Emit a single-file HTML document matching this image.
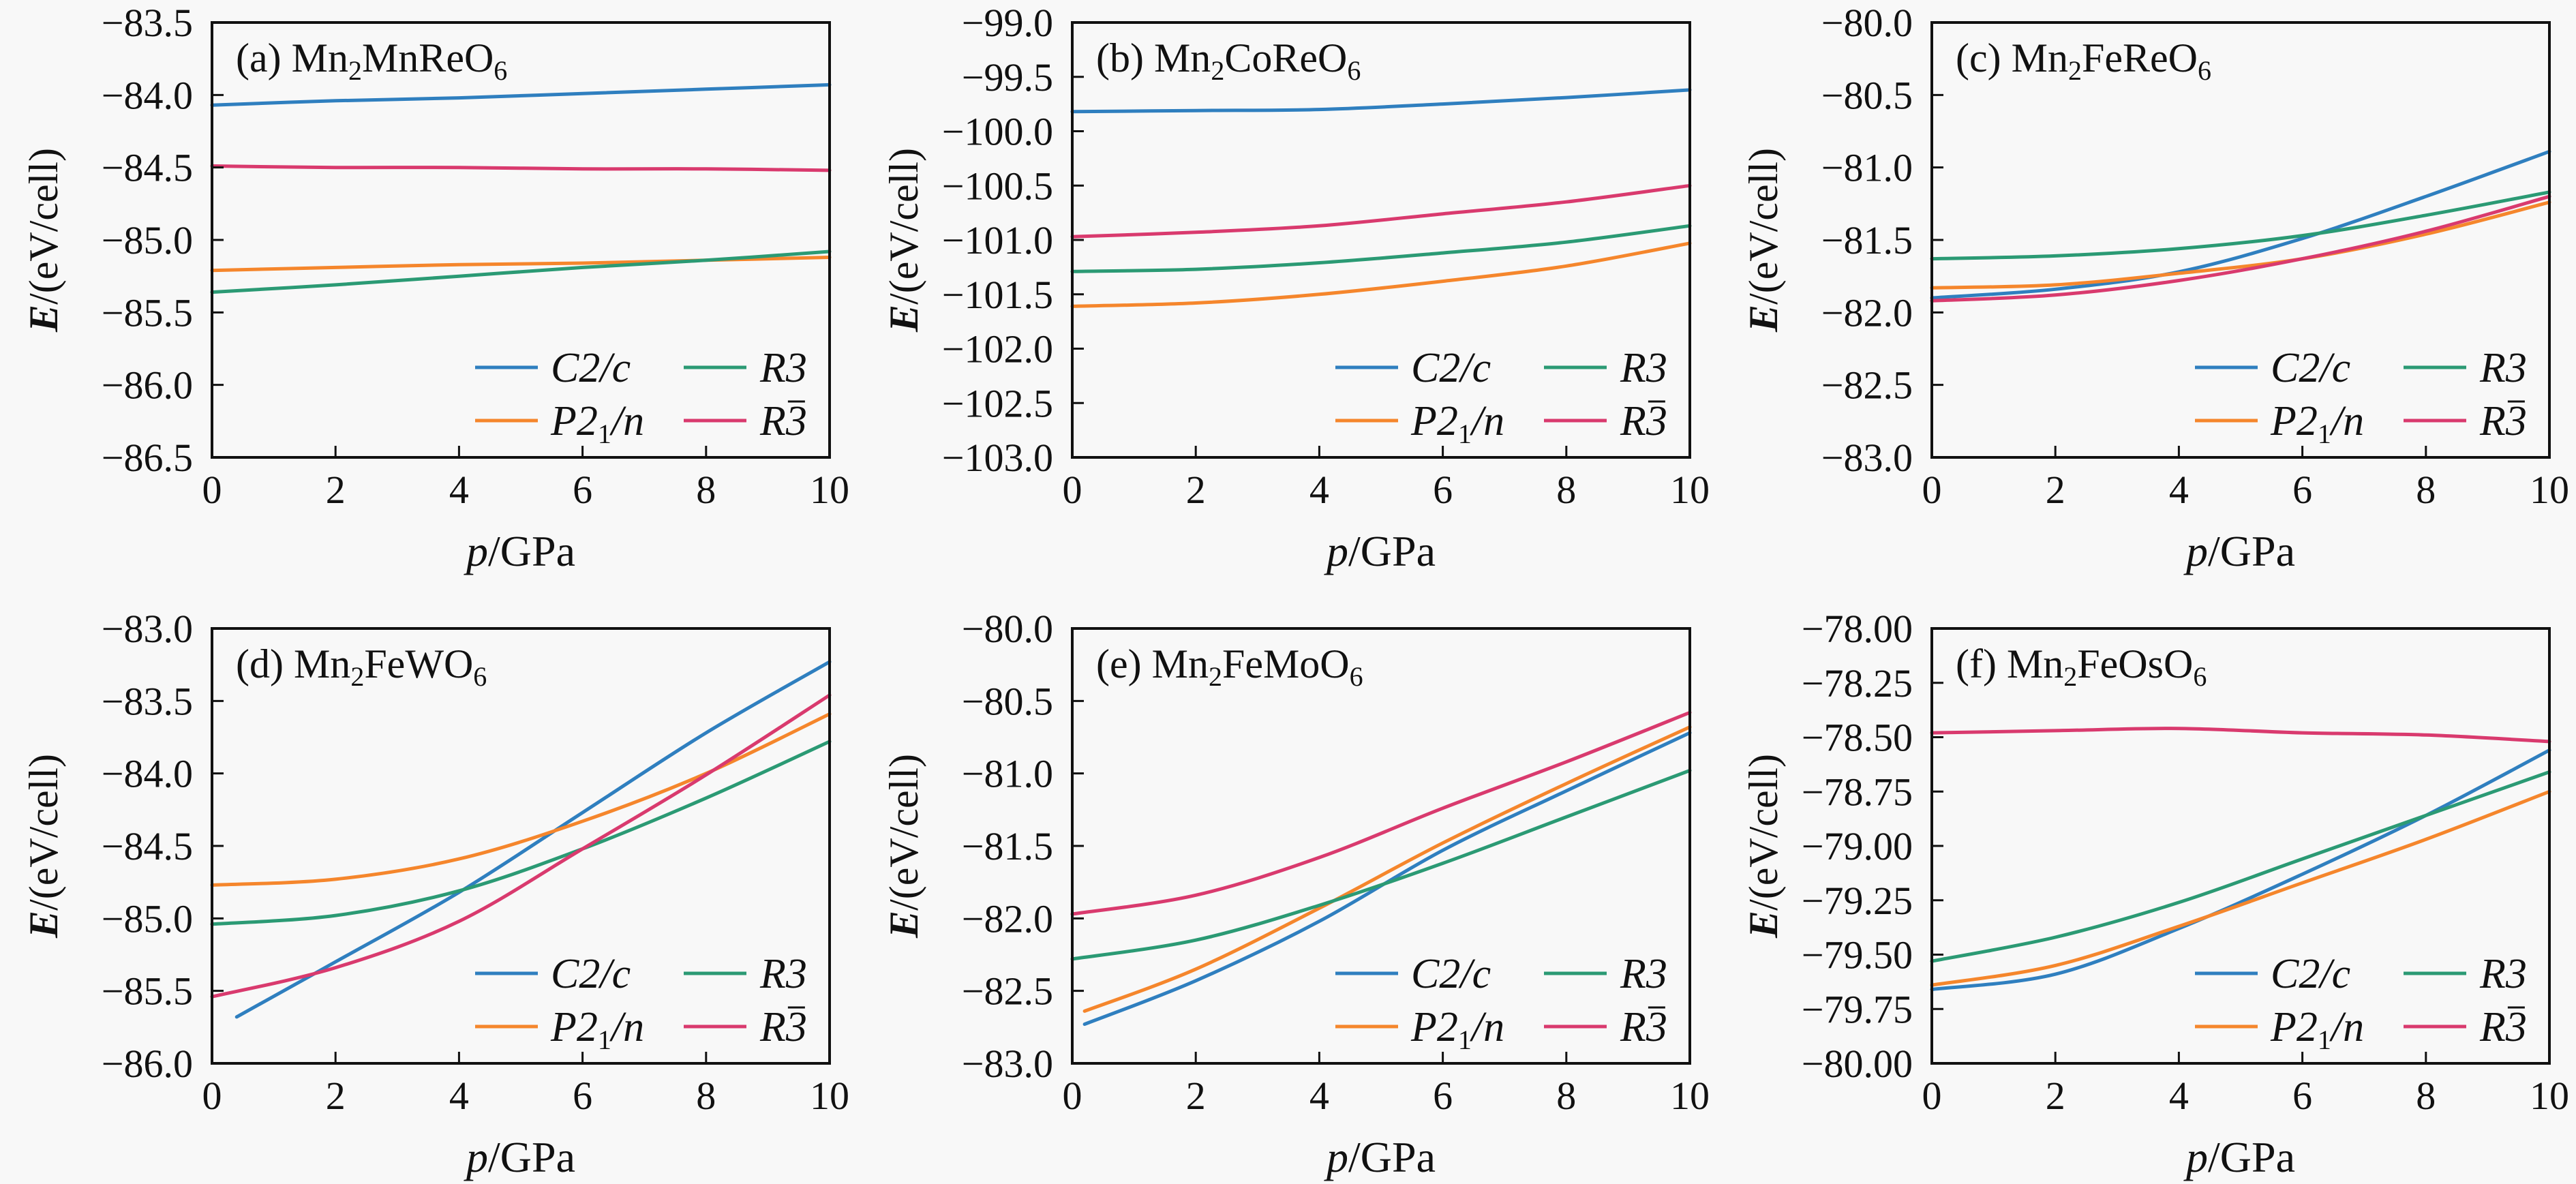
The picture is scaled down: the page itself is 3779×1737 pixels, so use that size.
<!DOCTYPE html>
<html><head><meta charset="utf-8"><style>
html,body{margin:0;padding:0;background:#f8f8f8;}
svg{display:block;}
svg text{font-family:"Liberation Serif","DejaVu Serif",serif;}
</style></head><body>
<svg id="fig" width="3779" height="1737" viewBox="0 0 3779 1737" xmlns="http://www.w3.org/2000/svg">
<rect x="0" y="0" width="3779" height="1737" fill="#f8f8f8"/>
</svg>
<script>
const xTicks = [0,2,4,6,8,10];
const seriesNames = ['C2/c','P21/n','R3','R3bar'];
const colors = ['#2f7fbf','#f5862c','#2b9a74','#d93a6e'];
// panel a
const aX = [0,2,4,6,8,10];
const aC2c = [-84.07,-84.04,-84.02,-83.99,-83.96,-83.93];
const aP21n = [-85.21,-85.19,-85.17,-85.16,-85.14,-85.12];
const aR3 = [-85.36,-85.31,-85.25,-85.19,-85.14,-85.08];
const aR3bar = [-84.49,-84.50,-84.50,-84.51,-84.51,-84.52];
const aYTicks = ['-83.5','-84.0','-84.5','-85.0','-85.5','-86.0','-86.5'];
// panel b
const bX = [0,2,4,6,8,10];
const bC2c = [-99.82,-99.81,-99.80,-99.75,-99.69,-99.62];
const bP21n = [-101.61,-101.58,-101.50,-101.38,-101.24,-101.03];
const bR3 = [-101.29,-101.27,-101.21,-101.12,-101.02,-100.87];
const bR3bar = [-100.97,-100.93,-100.87,-100.76,-100.65,-100.50];
const bYTicks = ['-99.0','-99.5','-100.0','-100.5','-101.0','-101.5','-102.0','-102.5','-103.0'];
// panel c
const cX = [0,2,4,6,8,10];
const cC2c = [-81.90,-81.84,-81.72,-81.49,-81.20,-80.89];
const cP21n = [-81.83,-81.81,-81.73,-81.63,-81.46,-81.24];
const cR3 = [-81.63,-81.61,-81.56,-81.47,-81.33,-81.17];
const cR3bar = [-81.92,-81.88,-81.78,-81.63,-81.44,-81.20];
const cYTicks = ['-80.0','-80.5','-81.0','-81.5','-82.0','-82.5','-83.0'];
// panel d
const dX = [0,2,4,6,8,10];
const dXC2c = [0.4,2,4,6,8,10];
const dC2c = [-85.68,-85.30,-84.82,-84.27,-83.72,-83.23];
const dP21n = [-84.77,-84.73,-84.59,-84.33,-84.00,-83.59];
const dR3 = [-85.04,-84.98,-84.81,-84.52,-84.17,-83.78];
const dR3bar = [-85.54,-85.34,-85.02,-84.52,-84.01,-83.46];
const dYTicks = ['-83.0','-83.5','-84.0','-84.5','-85.0','-85.5','-86.0'];
// panel e
const eX = [0,2,4,6,8,10];
const eXStart = [0.2,2,4,6,8,10];
const eC2c = [-82.73,-82.43,-82.02,-81.53,-81.12,-80.72];
const eP21n = [-82.64,-82.35,-81.93,-81.48,-81.07,-80.68];
const eR3 = [-82.28,-82.15,-81.91,-81.62,-81.30,-80.98];
const eR3bar = [-81.97,-81.84,-81.58,-81.24,-80.92,-80.58];
const eYTicks = ['-80.0','-80.5','-81.0','-81.5','-82.0','-82.5','-83.0'];
// panel f
const fX = [0,2,4,6,8,10];
const fC2c = [-79.66,-79.59,-79.38,-79.13,-78.86,-78.56];
const fP21n = [-79.64,-79.55,-79.37,-79.17,-78.97,-78.75];
const fR3 = [-79.53,-79.42,-79.26,-79.06,-78.86,-78.66];
const fR3bar = [-78.48,-78.47,-78.46,-78.48,-78.49,-78.52];
const fYTicks = ['-78.00','-78.25','-78.50','-78.75','-79.00','-79.25','-79.50','-79.75','-80.00'];

const panels = [
 {id:'a', title:['(a) Mn','2','MnReO','6'], L:311, T:33, yt:aYTicks, s:[[aX,aC2c],[aX,aP21n],[aX,aR3],[aX,aR3bar]]},
 {id:'b', title:['(b) Mn','2','CoReO','6'], L:1573, T:33, yt:bYTicks, s:[[bX,bC2c],[bX,bP21n],[bX,bR3],[bX,bR3bar]]},
 {id:'c', title:['(c) Mn','2','FeReO','6'], L:2834, T:33, yt:cYTicks, s:[[cX,cC2c],[cX,cP21n],[cX,cR3],[cX,cR3bar]]},
 {id:'d', title:['(d) Mn','2','FeWO','6'], L:311, T:922, yt:dYTicks, s:[[dXC2c,dC2c],[dX,dP21n],[dX,dR3],[dX,dR3bar]]},
 {id:'e', title:['(e) Mn','2','FeMoO','6'], L:1573, T:922, yt:eYTicks, s:[[eXStart,eC2c],[eXStart,eP21n],[eX,eR3],[eX,eR3bar]]},
 {id:'f', title:['(f) Mn','2','FeOsO','6'], L:2834, T:922, yt:fYTicks, s:[[fX,fC2c],[fX,fP21n],[fX,fR3],[fX,fR3bar]]}
];
const W = 906, H = 638;
const NS = 'http://www.w3.org/2000/svg';
const SERIF = '"Liberation Serif", "DejaVu Serif", serif';
const svg = document.getElementById('fig');
function mk(tag, attrs, parent){
  const e = document.createElementNS(NS, tag);
  for (const k in attrs) e.setAttribute(k, attrs[k]);
  (parent||svg).appendChild(e);
  return e;
}
function fmt(t){return t.replace('-','\u2212');}
function smooth(pts){
  let d = 'M'+pts[0][0].toFixed(1)+','+pts[0][1].toFixed(1);
  for (let i=0;i<pts.length-1;i++){
    const p0=pts[Math.max(0,i-1)], p1=pts[i], p2=pts[i+1], p3=pts[Math.min(pts.length-1,i+2)];
    const c1=[p1[0]+(p2[0]-p0[0])/6, p1[1]+(p2[1]-p0[1])/6];
    const c2=[p2[0]-(p3[0]-p1[0])/6, p2[1]-(p3[1]-p1[1])/6];
    d+=' C'+c1[0].toFixed(1)+','+c1[1].toFixed(1)+' '+c2[0].toFixed(1)+','+c2[1].toFixed(1)+' '+p2[0].toFixed(1)+','+p2[1].toFixed(1);
  }
  return d;
}
panels.forEach(p=>{
  const g = mk('g',{});
  
  
  const yMax = parseFloat(p.yt[0]), yMin = parseFloat(p.yt[p.yt.length-1]);
  const sx = v => p.L + (v-0)/10*W;
  const sy = v => p.T + (yMax - v)/(yMax - yMin)*H;
  p.s.forEach((ser,i)=>{
    const pts = ser[0].map((x,j)=>[sx(x), sy(ser[1][j])]);
    const path = mk('path',{d:smooth(pts), fill:'none', stroke:colors[i], 'stroke-width':5, 'stroke-linecap':'round'}, g);
    
    
  });
  const fr = mk('rect',{x:p.L, y:p.T, width:W, height:H, fill:'none', stroke:'#111', 'stroke-width':4}, g);
  
  
  xTicks.forEach(t=>{
    const x = sx(t);
    if (t>0 && t<10) mk('line',{x1:x,x2:x,y1:p.T+H,y2:p.T+H-17,stroke:'#111','stroke-width':3},g);
    const lb = mk('text',{x:x, y:p.T+H+67, 'font-size':58, 'text-anchor':'middle', fill:'#111', 'font-family':SERIF}, g);
    lb.textContent = t;
    
    
  });
  p.yt.forEach((t,i)=>{
    const y = sy(parseFloat(t));
    if (i>0 && i<p.yt.length-1) mk('line',{x1:p.L,x2:p.L+17,y1:y,y2:y,stroke:'#111','stroke-width':3},g);
    const lb = mk('text',{x:p.L-28, y:y+20, 'font-size':58, 'text-anchor':'end', fill:'#111', 'font-family':SERIF}, g);
    lb.textContent = fmt(t);
    
    
  });
  const tt = mk('text',{x:p.L+35, y:p.T+72, 'font-size':60, fill:'#111', 'font-family':SERIF}, g);
  
  
  mk('tspan',{},tt).textContent = p.title[0];
  mk('tspan',{'font-size':40, dy:12},tt).textContent = p.title[1];
  mk('tspan',{dy:-12},tt).textContent = p.title[2];
  mk('tspan',{'font-size':40, dy:12},tt).textContent = p.title[3];
  const xl = mk('text',{x:p.L+W/2, y:p.T+H+159, 'font-size':64, 'text-anchor':'middle', fill:'#111', 'font-family':SERIF}, g);
  
  
  mk('tspan',{'font-style':'italic'},xl).textContent='p';
  mk('tspan',{},xl).textContent='/GPa';
  const cx = p.L-247, cy = p.T+H/2;
  const yl = mk('text',{x:cx, y:cy, 'font-size':60, 'text-anchor':'middle', fill:'#111', 'font-weight':'bold', 'font-family':'"Liberation Sans",sans-serif', transform:'rotate(-90 '+cx+' '+cy+')', dy:20}, g);
  
  
  mk('tspan',{'font-style':'italic','font-family':SERIF},yl).textContent='E';
  mk('tspan',{'font-weight':'normal'},yl).textContent='/(eV/cell)';
  const lg = mk('g',{}, g);
  
  
  const rows = [p.T+H-132, p.T+H-54];
  const entries = [[0,0,0],[1,0,1],[2,1,0],[3,1,1]];
  entries.forEach(([si,col,row])=>{
    const hx = p.L + (col? 692:386), tx = p.L + (col? 804:497);
    const y = rows[row];
    const ln = mk('line',{x1:hx,x2:hx+92,y1:y,y2:y,stroke:colors[si],'stroke-width':5}, lg);
    
    
    const t = mk('text',{x:tx, y:y+21, 'font-size':62, fill:'#111', 'font-style':'italic', 'font-family':SERIF}, lg);
    
    
    if (si===0){ t.textContent='C2/c'; }
    else if (si===1){
      mk('tspan',{},t).textContent='P2';
      mk('tspan',{'font-size':40, dy:12, 'font-style':'normal'},t).textContent='1';
      mk('tspan',{dy:-12},t).textContent='/n';
    }
    else if (si===2){ t.textContent='R3'; }
    else {
      t.textContent='R3';
      const w = t.getComputedTextLength();
      mk('line',{x1:tx+w-28,x2:tx+w-3,y1:y-28,y2:y-28,stroke:'#111','stroke-width':3}, lg);
    }
  });
});
</script>
</body></html>
